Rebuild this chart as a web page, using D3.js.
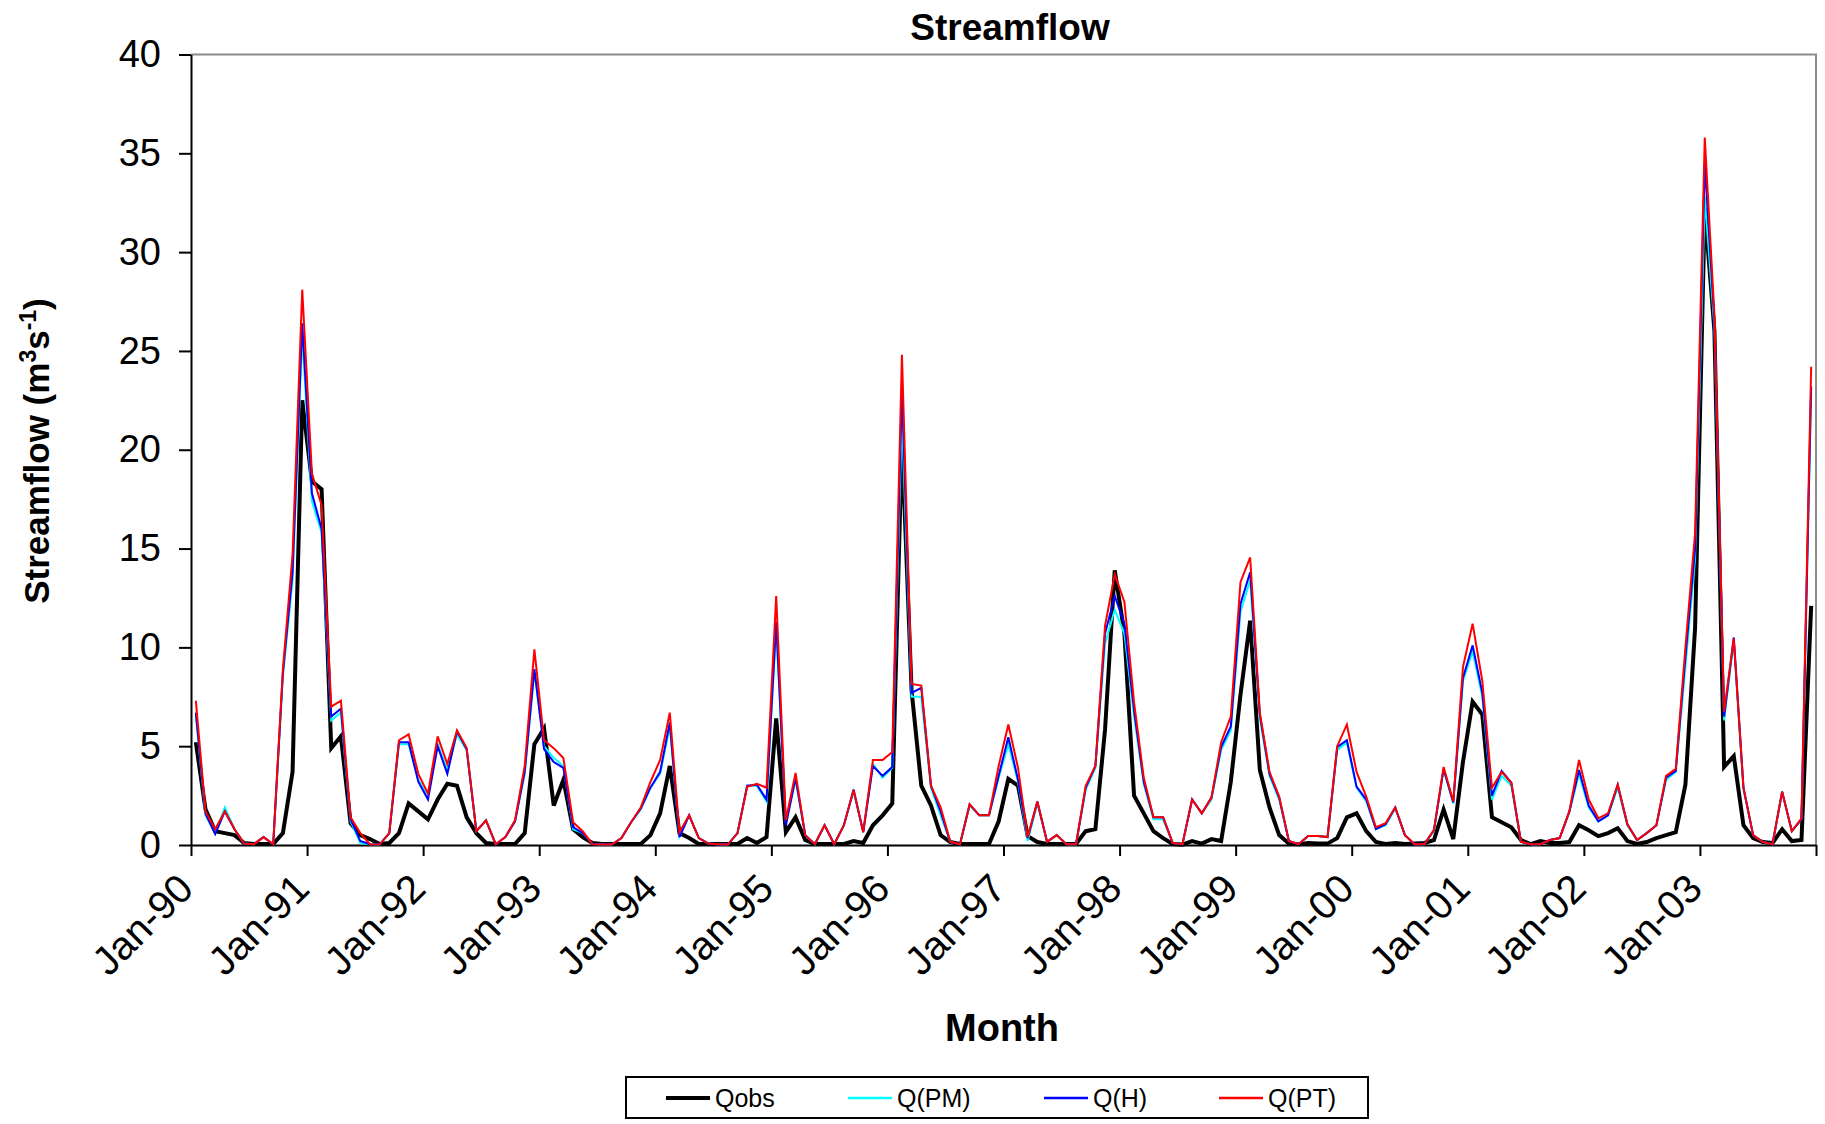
<!DOCTYPE html>
<html>
<head>
<meta charset="utf-8">
<style>
  body { margin: 0; background: #fff; }
  text { font-family: "Liberation Sans", Arial, sans-serif; fill: #000; }
</style>
</head>
<body>
<svg width="1825" height="1124"></svg>
<script src="https://d3js.org/d3.v7.min.js"></script>
<script>

// Tick labels on the category axis (one per year, at January).
var yearLabels = ["Jan-90", "Jan-91", "Jan-92", "Jan-93", "Jan-94", "Jan-95", "Jan-96",
                  "Jan-97", "Jan-98", "Jan-99", "Jan-00", "Jan-01", "Jan-02", "Jan-03"];
var yTicks = [0, 5, 10, 15, 20, 25, 30, 35, 40];

var seriesNames = ["Qobs", "Q(PM)", "Q(H)", "Q(PT)"];

// Monthly streamflow, Jan-1990 .. Dec-2003 (m3/s).
var qobs = [
  5.2, 1.8, 0.7, 0.6, 0.5, 0.1, 0.05, 0.05, 0.05, 0.6, 3.7, 22.5,
  18.4, 18.0, 4.9, 5.5, 1.1, 0.5, 0.3, 0.05, 0.1, 0.6, 2.1, 1.7,
  1.3, 2.3, 3.1, 3.0, 1.4, 0.6, 0.1, 0.05, 0.05, 0.05, 0.6, 5.1,
  5.9, 2.0, 3.3, 0.8, 0.4, 0.1, 0.05, 0.05, 0.05, 0.05, 0.05, 0.5,
  1.6, 4.0, 0.6, 0.35, 0.05, 0.05, 0.05, 0.05, 0.05, 0.35, 0.1, 0.4,
  6.4, 0.65, 1.4, 0.25, 0.05, 0.05, 0.05, 0.05, 0.2, 0.1, 1.0, 1.5,
  2.1, 20.5, 7.8, 3.0, 2.0, 0.5, 0.15, 0.05, 0.05, 0.05, 0.05, 1.2,
  3.35, 3.0, 0.45, 0.15, 0.05, 0.05, 0.05, 0.05, 0.7, 0.8, 5.85, 13.9,
  10.7, 2.5, 1.6, 0.7, 0.35, 0.05, 0.02, 0.2, 0.07, 0.3, 0.2, 3.2,
  7.6, 11.35, 3.8, 1.9, 0.5, 0.07, 0.04, 0.1, 0.07, 0.07, 0.35, 1.4,
  1.6, 0.7, 0.15, 0.05, 0.1, 0.05, 0.07, 0.1, 0.25, 1.8, 0.3, 4.2,
  7.25, 6.6, 1.4, 1.15, 0.9, 0.25, 0.04, 0.2, 0.1, 0.1, 0.15, 1.0,
  0.75, 0.45, 0.6, 0.85, 0.2, 0.05, 0.15, 0.35, 0.5, 0.65, 3.05, 11.0,
  32.2, 26.0, 3.95, 4.5, 1.0, 0.35, 0.15, 0.1, 0.8, 0.2, 0.25, 12.1
];

var qpm = [
  6.6, 1.5, 0.6, 1.9, 0.8, 0.07, 0.04, 0.4, 0.04, 8.5, 13.4, 25.8,
  17.4, 15.8, 6.3, 6.7, 1.2, 0.1, 0.04, 0.02, 0.6, 5.1, 5.1, 3.3,
  2.5, 5.1, 3.8, 5.6, 4.8, 0.7, 1.25, 0.04, 0.4, 1.2, 3.6, 8.8,
  5.0, 4.4, 4.0, 0.8, 0.6, 0.05, 0.02, 0.02, 0.35, 1.15, 1.8, 2.9,
  3.6, 6.0, 0.45, 1.5, 0.35, 0.07, 0.04, 0.02, 0.6, 3.0, 3.0, 2.2,
  11.0, 1.1, 3.3, 0.5, 0.04, 1.0, 0.04, 1.0, 2.7, 0.65, 4.1, 3.4,
  3.9, 21.8, 7.5, 7.5, 2.9, 1.5, 0.15, 0.04, 2.0, 1.5, 1.5, 3.4,
  5.1, 3.2, 0.2, 2.1, 0.16, 0.5, 0.04, 0.04, 2.8, 3.9, 10.2, 11.9,
  10.7, 6.5, 3.1, 1.3, 1.3, 0.1, 0.04, 2.3, 1.6, 2.3, 4.8, 5.8,
  11.8, 13.4, 6.4, 3.5, 2.3, 0.2, 0.04, 0.45, 0.45, 0.4, 4.8, 5.2,
  2.9, 2.2, 0.8, 1.0, 1.85, 0.5, 0.04, 0.04, 0.7, 3.8, 2.1, 8.3,
  9.8, 7.5, 2.3, 3.5, 3.0, 0.16, 0.04, 0.04, 0.25, 0.35, 1.65, 3.6,
  1.9, 1.2, 1.5, 2.9, 1.0, 0.25, 0.6, 1.0, 3.3, 3.7, 9.0, 14.5,
  32.8, 26.2, 6.3, 10.3, 2.8, 0.5, 0.15, 0.04, 2.7, 0.7, 1.3, 23.0
];

var qh = [
  6.7, 1.6, 0.55, 1.7, 0.8, 0.07, 0.04, 0.4, 0.04, 8.7, 13.8, 26.4,
  17.8, 16.0, 6.5, 6.9, 1.3, 0.2, 0.04, 0.02, 0.6, 5.2, 5.2, 3.2,
  2.3, 5.0, 3.6, 5.75, 4.85, 0.7, 1.25, 0.04, 0.4, 1.2, 3.7, 8.9,
  4.85, 4.2, 3.9, 0.9, 0.6, 0.05, 0.02, 0.02, 0.35, 1.15, 1.85, 2.9,
  3.7, 6.2, 0.4, 1.5, 0.35, 0.07, 0.04, 0.02, 0.6, 3.0, 3.05, 2.3,
  11.3, 1.0, 3.4, 0.5, 0.04, 1.0, 0.04, 1.0, 2.8, 0.65, 4.0, 3.5,
  3.95, 23.2, 7.7, 7.95, 3.0, 1.7, 0.15, 0.04, 2.06, 1.5, 1.5, 3.5,
  5.45, 3.3, 0.35, 2.2, 0.16, 0.5, 0.04, 0.04, 2.9, 4.0, 10.7, 12.6,
  11.2, 6.8, 3.2, 1.4, 1.4, 0.1, 0.04, 2.3, 1.6, 2.4, 4.95, 6.0,
  12.2, 13.8, 6.6, 3.6, 2.4, 0.2, 0.04, 0.45, 0.45, 0.4, 4.95, 5.3,
  2.95, 2.3, 0.8, 1.05, 1.9, 0.5, 0.04, 0.04, 0.75, 3.85, 2.15, 8.45,
  10.1, 7.7, 2.5, 3.75, 3.15, 0.16, 0.04, 0.04, 0.25, 0.35, 1.7, 3.8,
  2.0, 1.2, 1.5, 3.05, 1.05, 0.25, 0.6, 1.0, 3.4, 3.75, 9.5, 15.0,
  34.5, 26.5, 6.5, 10.5, 2.9, 0.5, 0.15, 0.04, 2.7, 0.7, 1.3, 23.2
];

var qpt = [
  7.3, 1.7, 0.8, 1.7, 0.8, 0.07, 0.04, 0.4, 0.04, 8.9, 14.7, 28.1,
  18.8, 17.2, 7.0, 7.3, 1.4, 0.6, 0.04, 0.02, 0.6, 5.3, 5.6, 3.6,
  2.6, 5.5, 4.1, 5.8, 4.9, 0.7, 1.25, 0.04, 0.4, 1.25, 4.0, 9.9,
  5.3, 4.9, 4.4, 1.15, 0.7, 0.04, 0.02, 0.02, 0.35, 1.15, 1.9, 3.2,
  4.3, 6.7, 0.65, 1.5, 0.35, 0.07, 0.04, 0.02, 0.6, 2.95, 3.1, 2.9,
  12.6, 1.25, 3.65, 0.5, 0.04, 1.0, 0.04, 1.0, 2.8, 0.65, 4.3, 4.3,
  4.7, 24.8, 8.15, 8.07, 3.0, 1.9, 0.16, 0.04, 2.06, 1.5, 1.5, 4.0,
  6.1, 3.9, 0.4, 2.2, 0.16, 0.5, 0.04, 0.04, 3.0, 4.0, 11.1, 13.7,
  12.3, 7.2, 3.4, 1.4, 1.4, 0.1, 0.04, 2.3, 1.6, 2.4, 5.2, 6.5,
  13.3, 14.55, 6.7, 3.7, 2.45, 0.2, 0.04, 0.45, 0.45, 0.4, 5.0, 6.1,
  3.7, 2.45, 0.9, 1.1, 1.9, 0.5, 0.04, 0.04, 0.75, 3.95, 2.2, 9.0,
  11.2, 8.3, 2.9, 3.7, 3.15, 0.16, 0.04, 0.04, 0.25, 0.35, 1.7, 4.3,
  2.3, 1.35, 1.6, 3.05, 1.05, 0.25, 0.6, 1.0, 3.5, 3.85, 10.0, 15.8,
  35.8, 26.8, 6.75, 10.45, 2.9, 0.5, 0.15, 0.04, 2.7, 0.7, 1.35, 24.2
];

var svg = d3.select("svg"),
    width = +svg.attr("width"),
    height = +svg.attr("height");

var plotLeft = 191, plotRight = 1816, plotTop = 54.5, plotBottom = 845;

var x = d3.scaleBand()
    .domain(d3.range(qobs.length))
    .range([plotLeft, plotRight]);

// month index -> position, used for the year tick marks between categories
var xt = d3.scaleLinear()
    .domain([0, qobs.length])
    .range([plotLeft, plotRight]);

var y = d3.scaleLinear()
    .domain([0, 40])
    .range([plotBottom, plotTop]);

// plot frame (top and right sides are grey in the original)
svg.append("path")
    .attr("d", "M" + plotLeft + "," + plotTop + "H" + plotRight + "V" + plotBottom)
    .attr("fill", "none")
    .attr("stroke", "#8c8c8c")
    .attr("stroke-width", 2);

// y axis
var gy = svg.append("g")
    .attr("transform", "translate(" + plotLeft + ",0)")
    .call(d3.axisLeft(y).tickValues(yTicks).tickSize(12).tickPadding(18).tickSizeOuter(0));
gy.selectAll("path, line").attr("stroke", "#000").attr("stroke-width", 2);
gy.selectAll("text").style("font-size", "38px").attr("fill", "#000");

// x axis, ticks every 12 months
var gx = svg.append("g")
    .attr("transform", "translate(0," + plotBottom + ")")
    .call(d3.axisBottom(xt)
      .tickValues(d3.range(0, qobs.length + 1, 12))
      .tickSize(11)
      .tickSizeOuter(0)
      .tickFormat(function(d) { return yearLabels[d / 12] || ""; }));
gx.selectAll("path, line").attr("stroke", "#000").attr("stroke-width", 2);
gx.selectAll("text")
    .style("font-size", "40px")
    .attr("text-anchor", "end")
    .attr("dy", null)
    .attr("y", 0)
    .attr("transform", "translate(4,46) rotate(-45)");

// series
var series = [
  {name: seriesNames[0], values: qobs, color: "#000000", width: 4},
  {name: seriesNames[1], values: qpm, color: "#00ffff", width: 2},
  {name: seriesNames[2], values: qh, color: "#0000ff", width: 2},
  {name: seriesNames[3], values: qpt, color: "#ff0000", width: 2}
];

var line = d3.line()
    .x(function(d, i) { return x(i) + x.bandwidth() / 2; })
    .y(function(d) { return y(d); });

svg.append("g").selectAll("path")
  .data(series)
  .enter().append("path")
    .attr("fill", "none")
    .attr("stroke", function(d) { return d.color; })
    .attr("stroke-width", function(d) { return d.width; })
    .attr("stroke-linejoin", "miter")
    .attr("d", function(d) { return line(d.values); });

// titles
svg.append("text")
    .attr("x", 1010)
    .attr("y", 40)
    .attr("text-anchor", "middle")
    .style("font-size", "37px")
    .style("font-weight", "bold")
    .text("Streamflow");

svg.append("text")
    .attr("x", 1002)
    .attr("y", 1041)
    .attr("text-anchor", "middle")
    .style("font-size", "38px")
    .style("font-weight", "bold")
    .text("Month");

var ty = svg.append("text")
    .attr("transform", "translate(49,451) rotate(-90)")
    .attr("text-anchor", "middle")
    .style("font-size", "35px")
    .style("font-weight", "bold");
ty.append("tspan").text("Streamflow (m");
ty.append("tspan").attr("dy", -13).style("font-size", "23px").text("3");
ty.append("tspan").attr("dy", 13).text("s");
ty.append("tspan").attr("dy", -13).style("font-size", "23px").text("-1");
ty.append("tspan").attr("dy", 13).text(")");

// legend
var legend = svg.append("g");
legend.append("rect")
    .attr("x", 626)
    .attr("y", 1077)
    .attr("width", 742)
    .attr("height", 41)
    .attr("fill", "#fff")
    .attr("stroke", "#000")
    .attr("stroke-width", 2);

var legendX = [666, 848, 1044, 1219];
var item = legend.selectAll("g.item")
  .data(series)
  .enter().append("g")
    .attr("class", "item")
    .attr("transform", function(d, i) { return "translate(" + legendX[i] + ",1098)"; });
item.append("line")
    .attr("x1", 0).attr("x2", 44)
    .attr("stroke", function(d) { return d.color; })
    .attr("stroke-width", function(d) { return d.width === 4 ? 4 : 2.5; });
item.append("text")
    .attr("x", 49)
    .attr("dy", "0.35em")
    .style("font-size", "25px")
    .text(function(d) { return d.name; });

</script>
</body>
</html>
